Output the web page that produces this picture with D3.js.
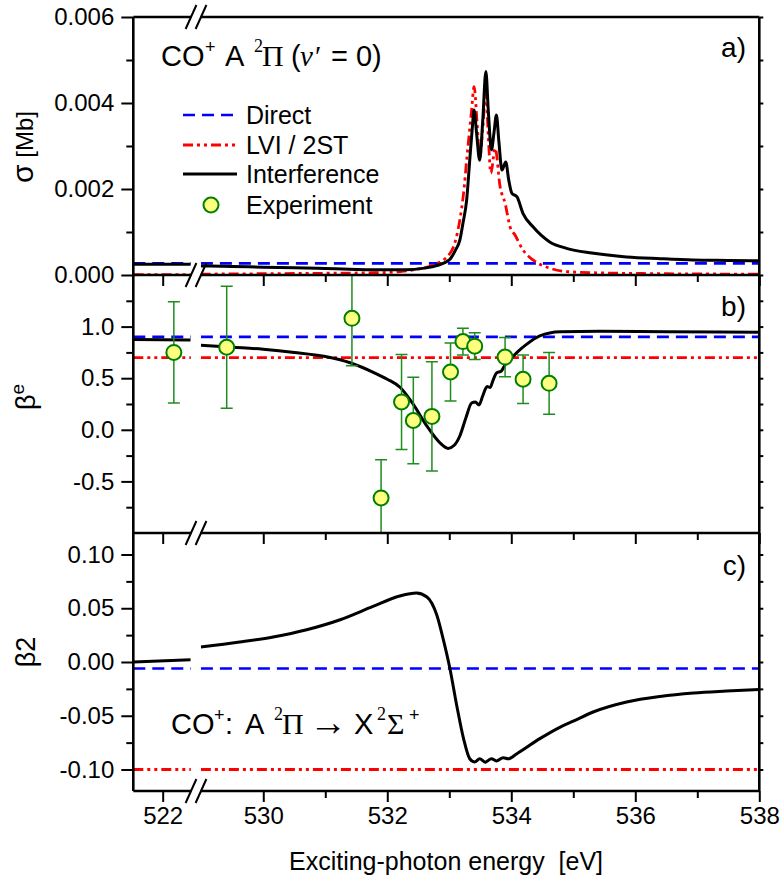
<!DOCTYPE html>
<html><head><meta charset="utf-8">
<script src="https://cdn.jsdelivr.net/npm/d3@7"></script>
<style>
body{margin:0;background:#fff}
svg{display:block}
text{font-family:"Liberation Sans",Arial,sans-serif;fill:#000}
</style>
</head><body>
<svg id="chart" width="783" height="882"></svg>
<script>
// ---------------- DATA ----------------
// panel a: cross section sigma [Mb]
const sigmaDirect = 0.00027;
const sigmaInterference = [
  [521.53,0.00025],[522.45,0.00025],
  [528.99,0.00021],[529.5,0.00020],[530.0,0.00018],[530.5,0.00017],[531.0,0.00015],[531.5,0.00013],
  [532.0,0.00012],[532.3,0.00012],[532.6,0.00016],[532.8,0.00022],[533.0,0.00035],[533.1,0.00058],
  [533.17,0.00081],[533.22,0.0012],[533.28,0.00174],[533.33,0.00267],[533.37,0.0034],[533.40,0.00384],
  [533.44,0.0033],[533.49,0.00267],[533.54,0.0036],[533.59,0.00473],[533.63,0.0038],[533.68,0.00291],
  [533.72,0.0033],[533.76,0.00372],[533.80,0.0031],[533.85,0.00244],[533.91,0.00263],[533.96,0.0022],
  [534.01,0.0019],[534.09,0.00182],[534.19,0.00143],[534.35,0.00112],[534.62,0.00077],[534.89,0.00062],
  [535.3,0.00051],[535.86,0.00042],[536.4,0.00038],[536.93,0.00035],[537.5,0.00034],[538.0,0.00033]
];
const sigmaLVI = [
  [521.53,0.00001],[522.45,0.00001],
  [528.99,0.00002],[530.0,0.00003],[531.0,0.00004],[531.7,0.00005],[532.0,0.00006],[532.21,0.00008],
  [532.5,0.00014],[532.74,0.00023],[533.01,0.0005],[533.1,0.0008],[533.17,0.00128],[533.23,0.0019],
  [533.28,0.00267],[533.36,0.00384],[533.40,0.00438],[533.45,0.0035],[533.49,0.00275],[533.54,0.0034],
  [533.59,0.0043],[533.63,0.0032],[533.67,0.00237],[533.74,0.00295],[533.82,0.00205],[533.90,0.00167],
  [533.98,0.00112],[534.06,0.00093],[534.19,0.00058],[534.35,0.00035],[534.62,0.00016],[534.89,0.00008],
  [535.43,0.00005],[536.5,0.00003],[538.0,0.00002]
];
// panel b: beta^e
const betaDirect = 0.90;
const betaLVI = 0.70;
const betaInterference = [
  [521.53,0.875],[522.45,0.87],
  [528.99,0.82],[529.5,0.80],[530.0,0.78],[530.5,0.75],[531.0,0.71],[531.4,0.65],[531.8,0.55],
  [532.0,0.49],[532.21,0.41],[532.42,0.246],[532.64,0.035],[532.85,-0.126],[532.98,-0.18],
  [533.08,-0.15],[533.17,-0.06],[533.27,0.12],[533.36,0.26],[533.42,0.27],[533.48,0.24],
  [533.54,0.33],[533.61,0.42],[533.66,0.41],[533.70,0.47],[533.76,0.55],[533.84,0.57],[533.90,0.63],
  [533.98,0.68],[534.11,0.76],[534.25,0.83],[534.46,0.91],[534.79,0.95],[535.43,0.955],[536.5,0.95],[538.0,0.945]
];
const expEnergy = [522.18,529.41,531.43,531.90,532.23,532.42,532.72,533.02,533.22,533.41,533.90,534.19,534.61];
const expBeta   = [0.75,0.80,1.08,-0.66,0.27,0.09,0.13,0.56,0.855,0.81,0.705,0.49,0.45];
const expError  = [0.49,0.59,0.46,0.37,0.46,0.42,0.53,0.28,0.13,0.13,0.19,0.235,0.30];
// panel c: beta2
const beta2Direct = -0.006;
const beta2LVI = -0.10;
const beta2Interference = [
  [521.53,0.0],[522.45,0.002],
  [528.99,0.014],[529.62,0.0186],[530.16,0.0233],[530.70,0.030],[531.24,0.0393],[531.77,0.0517],
  [532.2,0.0614],[532.47,0.0642],[532.64,0.0605],[532.8,0.0434],[532.9,0.0217],[533.01,-0.006],
  [533.12,-0.0404],[533.23,-0.0713],[533.33,-0.090],[533.41,-0.093],[533.49,-0.090],[533.58,-0.0932],
  [533.68,-0.090],[533.76,-0.092],[533.87,-0.089],[533.95,-0.090],[534.09,-0.0853],[534.46,-0.0713],
  [534.79,-0.0605],[535.0,-0.055],[535.32,-0.0465],[535.86,-0.0372],[536.4,-0.032],[536.94,-0.0288],
  [537.47,-0.027],[538.0,-0.0255]
];
// ticks
const xMajorLeft = [522];
const xMajorRight = [530,532,534,536,538];
const xMinorRight = [531,533,535,537];
const xTickLabels = ["522","530","532","534","536","538"];
const yTicksA = [0,0.002,0.004,0.006], yMinorA = [0.001,0.003,0.005];
const yTicksB = [-0.5,0,0.5,1.0], yMinorB = [-0.75,-0.25,0.25,0.75,1.25];
const yTicksC = [-0.10,-0.05,0,0.05,0.10], yMinorC = [-0.075,-0.025,0.025,0.075];
const legendLabels = ["Direct","LVI / 2ST","Interference","Experiment"];

// ---------------- LAYOUT ----------------
const svg = d3.select("#chart");
const L = 133.3, R = 759.3;
const tops = [17,275,533], bots = [275,533,791];
const xL = d3.scaleLinear().domain([521.526,522.455]).range([L,190.9]);
const xR = d3.scaleLinear().domain([528.994,538]).range([200.9,R]);
const segs = [{x:xL,lo:521.526,hi:522.455},{x:xR,lo:528.994,hi:538}];
const yA = d3.scaleLinear().domain([0,0.006]).range([275,17]);
const yB = d3.scaleLinear().domain([-1,1.5]).range([533,275]);
const yC = d3.scaleLinear().domain([-0.12,0.12]).range([791,533]);
const ys = [yA,yB,yC];
const xOf = e => e < 525 ? xL(e) : xR(e);

const defs = svg.append("defs");
ys.forEach((y,i)=>{
  segs.forEach((s,j)=>{
    defs.append("clipPath").attr("id",`cp${i}${j}`).append("rect")
      .attr("x",s.x.range()[0]).attr("width",s.x.range()[1]-s.x.range()[0])
      .attr("y",tops[i]).attr("height",bots[i]-tops[i]);
  });
  defs.append("clipPath").attr("id",`cpp${i}`).append("rect")
    .attr("x",L).attr("width",R-L).attr("y",tops[i]).attr("height",bots[i]-tops[i]);
});

const styles = {
  direct:{stroke:"#0000ff",w:2.6,dash:"12,7"},
  lvi:{stroke:"#ff0000",w:2.8,dash:"10,4,3,4,3,4"},
  inter:{stroke:"#000",w:3,dash:null}
};
function drawCurve(data, pi, st){
  segs.forEach((s,j)=>{
    const pts = data.filter(d=>d[0]>=s.lo-0.01 && d[0]<=s.hi+0.01);
    if(pts.length<2) return;
    const line = d3.line().x(d=>s.x(d[0])).y(d=>ys[pi](d[1])).curve(d3.curveMonotoneX);
    svg.append("path").attr("d",line(pts)).attr("fill","none")
      .attr("stroke",st.stroke).attr("stroke-width",st.w)
      .attr("stroke-dasharray",st.dash).attr("stroke-linejoin","round")
      .attr("clip-path",`url(#cp${pi}${j})`);
  });
}
function drawLevel(v, pi, st){
  drawCurve(segs.flatMap(s=>[[s.lo,v],[s.hi,v]]), pi, st);
}

// panel a
drawLevel(sigmaDirect,0,styles.direct);
drawCurve(sigmaLVI,0,styles.lvi);
drawCurve(sigmaInterference,0,styles.inter);
// panel b
drawLevel(betaDirect,1,styles.direct);
drawLevel(betaLVI,1,styles.lvi);
drawCurve(betaInterference,1,styles.inter);
// panel c
drawLevel(beta2Direct,2,styles.direct);
drawLevel(beta2LVI,2,styles.lvi);
drawCurve(beta2Interference,2,styles.inter);

// experiment
const gExp = svg.append("g").attr("clip-path","url(#cpp1)");
expEnergy.forEach((e,i)=>{
  const x = xOf(e), v = expBeta[i], er = expError[i];
  const y0 = yB(v-er), y1 = yB(v+er);
  const g = gExp.append("g").attr("stroke","#1e8c1e").attr("stroke-width",1.5);
  g.append("line").attr("x1",x).attr("x2",x).attr("y1",y0).attr("y2",y1);
  g.append("line").attr("x1",x-6).attr("x2",x+6).attr("y1",y0).attr("y2",y0);
  g.append("line").attr("x1",x-6).attr("x2",x+6).attr("y1",y1).attr("y2",y1);
});
expEnergy.forEach((e,i)=>{
  gExp.append("circle").attr("cx",xOf(e)).attr("cy",yB(expBeta[i])).attr("r",7.5)
    .attr("fill","#ffff80").attr("stroke","#008000").attr("stroke-width",2);
});

// ---------------- AXES ----------------
const fmts = [d=>d.toFixed(3), d=>d.toFixed(1), d=>d.toFixed(2)];
const majors = [yTicksA,yTicksB,yTicksC], minors=[yMinorA,yMinorB,yMinorC];
function styleAxis(g){
  g.select(".domain").remove();
  g.selectAll(".tick line").attr("stroke","#000").attr("stroke-width",2);
  g.attr("font-family","Liberation Sans, Arial, sans-serif").attr("font-size",24);
  g.selectAll(".tick text").attr("fill","#000");
}
ys.forEach((y,i)=>{
  const g1 = svg.append("g").attr("transform",`translate(${L},0)`)
    .call(d3.axisLeft(y).tickValues(majors[i]).tickSize(12).tickPadding(7).tickFormat(fmts[i]));
  styleAxis(g1);
  const g2 = svg.append("g").attr("transform",`translate(${L},0)`)
    .call(d3.axisLeft(y).tickValues(minors[i]).tickSize(7).tickFormat(""));
  styleAxis(g2);
  const g3 = svg.append("g").attr("transform",`translate(${R},0)`)
    .call(d3.axisLeft(y).tickValues(majors[i].concat(minors[i])).tickSize(-4).tickFormat(""));
  styleAxis(g3);
});
// bottom ticks for each panel
bots.forEach((b,i)=>{
  const last = i===2;
  const gL = svg.append("g").attr("transform",`translate(0,${b})`)
    .call(d3.axisBottom(xL).tickValues(xMajorLeft).tickSize(11).tickPadding(5)
      .tickFormat(last ? (d=>xTickLabels[xMajorLeft.indexOf(d)]) : ""));
  styleAxis(gL);
  const gR = svg.append("g").attr("transform",`translate(0,${b})`)
    .call(d3.axisBottom(xR).tickValues(xMajorRight).tickSize(11).tickPadding(5)
      .tickFormat(last ? (d=>xTickLabels[xMajorLeft.length+xMajorRight.indexOf(d)]) : ""));
  styleAxis(gR);
  const gm = svg.append("g").attr("transform",`translate(0,${b})`)
    .call(d3.axisBottom(xR).tickValues(xMinorRight).tickSize(7).tickFormat(""));
  styleAxis(gm);
});

// frame
const frame = svg.append("g").attr("stroke","#000").attr("stroke-width",2.6).attr("fill","none");
frame.append("line").attr("x1",L).attr("x2",L).attr("y1",17).attr("y2",791);
frame.append("line").attr("x1",R).attr("x2",R).attr("y1",17).attr("y2",791);
[17,275,533,791].forEach(h=>{
  frame.append("line").attr("x1",L).attr("x2",R).attr("y1",h).attr("y2",h);
});
// axis breaks
[17,275,533,791].forEach(h=>{
  svg.append("rect").attr("x",191.2).attr("width",9.4).attr("y",h-3).attr("height",6).attr("fill","#fff");
  [185.6,195.6].forEach(x0=>{
    svg.append("line").attr("x1",x0).attr("y1",h+12).attr("x2",x0+10.8).attr("y2",h-12)
      .attr("stroke","#000").attr("stroke-width",2);
  });
});

// ---------------- TEXT ----------------
const serif = "Liberation Serif, Times New Roman, serif";
// y titles
const t1 = svg.append("text").attr("transform","translate(33,147) rotate(-90)").attr("text-anchor","middle");
t1.append("tspan").attr("font-size",30).text("σ");
t1.append("tspan").attr("font-size",24).text(" [Mb]");
const t2 = svg.append("text").attr("transform","translate(35,397) rotate(-90)").attr("text-anchor","middle");
t2.append("tspan").attr("font-size",27).text("β");
t2.append("tspan").attr("font-size",19).attr("dy",-11).text("e");
const t3 = svg.append("text").attr("transform","translate(35,652) rotate(-90)").attr("text-anchor","middle")
  .attr("font-size",27).text("β2");
// x title
svg.append("text").attr("x",446).attr("y",870).attr("text-anchor","middle").attr("font-size",25)
  .style("white-space","pre").text("Exciting-photon energy  [eV]");

// panel labels
[["a)",57],["b)",316],["c)",575]].forEach(([t,y])=>{
  svg.append("text").attr("x",746).attr("y",y).attr("text-anchor","end").attr("font-size",28).text(t);
});

// title panel a
function rich(parts, y){
  const t = svg.append("text").attr("y",y);
  parts.forEach(p=>{
    const s = t.append("tspan").attr("x",p.x).attr("y",y+(p.up||0)).attr("font-size",p.fs).text(p.t);
    if(p.serif) s.attr("font-family",serif);
    if(p.it) s.attr("font-style","italic");
  });
}
rich([
  {t:"CO",x:161,fs:29},
  {t:"+",x:205,fs:18,up:-13},
  {t:"A",x:225,fs:29},
  {t:"2",x:254,fs:18,up:-14,serif:true},
  {t:"Π",x:262,fs:30,serif:true},
  {t:"(",x:291,fs:29},
  {t:"v",x:300,fs:29,serif:true,it:true},
  {t:"′",x:315,fs:29,serif:true},
  {t:"= 0)",x:331,fs:29}
], 66);
// annotation panel c
rich([
  {t:"CO",x:171,fs:29},
  {t:"+",x:214,fs:18,up:-13},
  {t:":",x:225,fs:29},
  {t:"A",x:245,fs:29},
  {t:"2",x:274,fs:18,up:-14,serif:true},
  {t:"Π",x:282,fs:30,serif:true},
  {t:"→",x:309,fs:38,serif:true,up:1},
  {t:"X",x:354,fs:29},
  {t:"2",x:377,fs:18,up:-14,serif:true},
  {t:"Σ",x:387,fs:30,serif:true},
  {t:"+",x:409,fs:18,up:-13}
], 734);

// legend
const legY = [115,145,174,205];
const legStyles = [styles.direct, styles.lvi, styles.inter];
legStyles.forEach((st,i)=>{
  svg.append("line").attr("x1",183).attr("x2",237).attr("y1",legY[i]).attr("y2",legY[i])
    .attr("stroke",st.stroke).attr("stroke-width",st.w).attr("stroke-dasharray",st.dash);
});
svg.append("circle").attr("cx",211).attr("cy",legY[3]).attr("r",7.5)
  .attr("fill","#ffff80").attr("stroke","#008000").attr("stroke-width",2);
legendLabels.forEach((t,i)=>{
  svg.append("text").attr("x",246).attr("y",legY[i]+9).attr("font-size",25).text(t);
});
</script>
</body></html>
